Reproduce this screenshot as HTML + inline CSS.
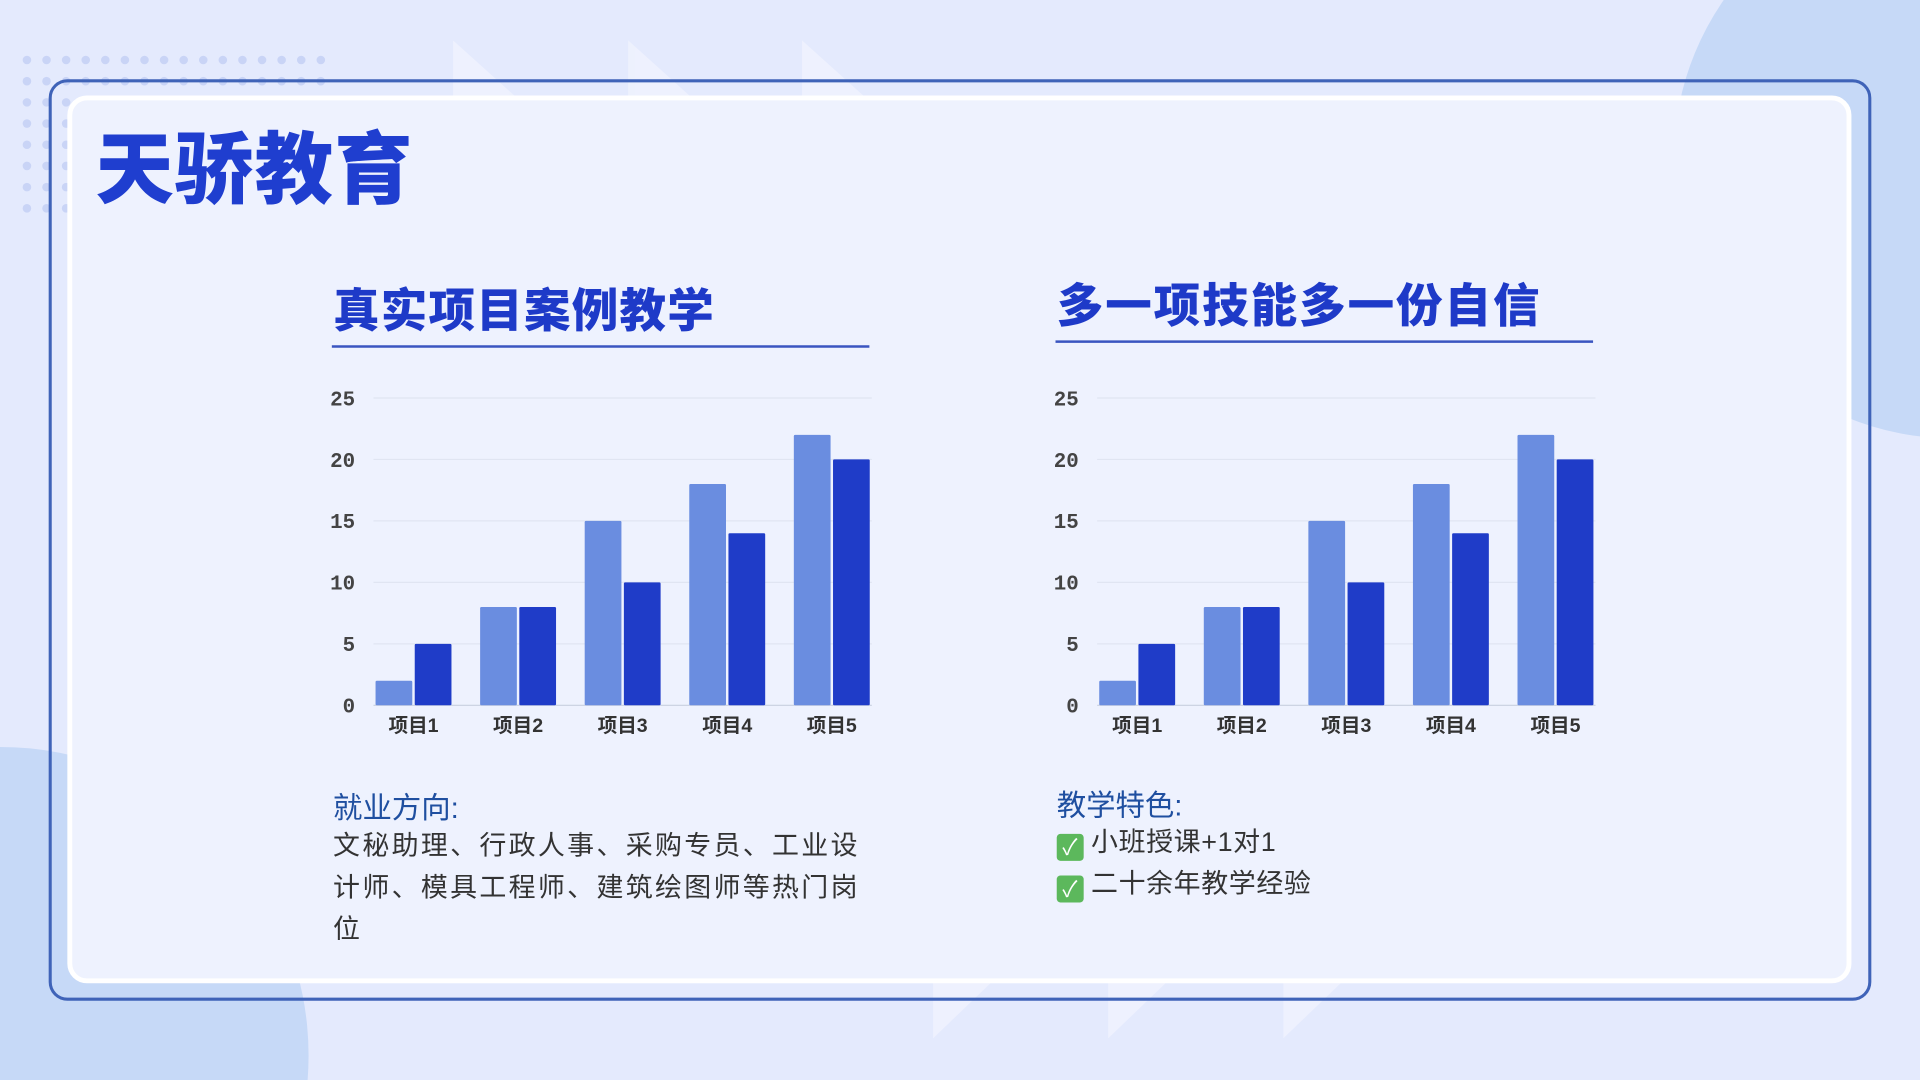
<!DOCTYPE html>
<html><head><meta charset="utf-8"><style>
html,body{margin:0;padding:0;width:1920px;height:1080px;overflow:hidden;background:#e4eafd}
#w{position:relative;width:1920px;height:1080px;overflow:hidden}
#s{position:absolute;left:0;top:0;width:1568px;height:882px;transform:scale(1.22449);transform-origin:0 0;font-family:"Liberation Sans","Noto Sans CJK SC",sans-serif}
.a{position:absolute}
</style></head><body>
<div id="w">
<div id="s">
<svg class="a" style="left:0;top:0" width="1568" height="882">
<rect width="1568" height="882" fill="#e4eafd"/>
<circle cx="1595" cy="130" r="228" fill="#c6d9f7"/>
<circle cx="0" cy="862" r="252" fill="#c6d9f7"/>
<g fill="#f0f3fe" opacity="0.8">
<polygon points="370,33 370,78 420,78"/><polygon points="513,33 513,78 563,78"/><polygon points="655,33 655,78 705,78"/>
<polygon points="762,800 762,848 812,800"/><polygon points="905,800 905,848 955,800"/><polygon points="1048,800 1048,848 1098,800"/>
</g>
<g id="dots" fill="#c9d4f6"></g>
<rect x="41" y="66" width="1486" height="750" rx="14" fill="none" stroke="#3f63b8" stroke-width="2.5"/>
<rect x="57" y="80" width="1453" height="721" rx="14" fill="#eef2fe" stroke="#ffffff" stroke-width="4"/>
</svg>
<div class="a" style="left:78px;top:88px;font-size:64px;font-weight:900;color:#1f3ecf;letter-spacing:1px">天骄教育</div>
<svg class="a" style="left:0;top:0" width="1568" height="882" id="charts"></svg>
<div class="a" style="left:272px;top:640px;font-size:24px;color:#1f4fa0">就业方向:</div>
<div class="a" style="left:272px;top:674px;width:470px;font-size:22px;letter-spacing:1.9px;line-height:34px;color:#333;white-space:nowrap">文秘助理、行政人事、采购专员、工业设<br>计师、模具工程师、建筑绘图师等热门岗<br>位</div>
<div class="a" style="left:863px;top:638px;font-size:24px;color:#1f4fa0">教学特色:</div>
<div class="a" style="left:863px;top:671px;font-size:22px;letter-spacing:0.5px;line-height:34px;color:#333">
<div><span style="display:inline-block;width:22px;height:22px;background:#5cb85c;border-radius:3px;color:#fff;font-size:18px;line-height:22px;text-align:center;vertical-align:-3px;margin-right:6px">✓</span>小班授课+1对1</div>
<div><span style="display:inline-block;width:22px;height:22px;background:#5cb85c;border-radius:3px;color:#fff;font-size:18px;line-height:22px;text-align:center;vertical-align:-3px;margin-right:6px">✓</span>二十余年教学经验</div>
</div>
</div>
</div>
<script>
const categories=["项目1","项目2","项目3","项目4","项目5"];
const seriesA=[2,8,15,18,22];
const seriesB=[5,8,10,14,20];
const yTicks=[0,5,10,15,20,25];
const titles=["真实项目案例教学","多一项技能多一份自信"];
const NS="http://www.w3.org/2000/svg";
function mk(t,a,p){const e=document.createElementNS(NS,t);for(const k in a)e.setAttribute(k,a[k]);p.appendChild(e);return e;}
const dots=document.getElementById('dots');
for(let r=0;r<8;r++)for(let c=0;c<16;c++){const d=mk('circle',{cx:22+c*16,cy:49+r*17.3,r:3.5},dots);

}
const svg=document.getElementById('charts');
[[0,0,1],[591,-4,1.6]].forEach(([dx,dy,ls],i)=>{
 const g=mk('g',{},svg);
 
 
 const t=mk('text',{x:272+dx,y:267+dy,'font-size':38,'font-weight':900,fill:'#1e3ac8','letter-spacing':ls},g);t.textContent=titles[i];
 
 
 const u=mk('line',{x1:272+dx-1,x2:710+dx,y1:283+dy,y2:283+dy,stroke:'#3a55c0','stroke-width':2},g);
 
 
 const y0=576,x0=295+dx,x1=722+dx;
 const ys=v=>y0-v*(251/25);
 const step=(x1-x0)/categories.length;
 const xc=j=>x0+step*(j+0.5);
 yTicks.forEach(v=>{
  const l=mk('line',{x1:305+dx,x2:712+dx,y1:ys(v),y2:ys(v),stroke:v?'#e0e5f2':'#c8cfdf','stroke-width':1},g);
  
  
  const tx=mk('text',{x:290+dx,y:ys(v)+6,'font-size':17,'text-anchor':'end',fill:'#444','font-family':'Liberation Mono, monospace','font-weight':700},g);tx.textContent=v;
  
  
 });
 categories.forEach((c,j)=>{
  const b1=mk('rect',{x:xc(j)-31,y:ys(seriesA[j]),width:30,height:y0-ys(seriesA[j]),fill:'#6a8de0',rx:1},g);
  
  
  const b2=mk('rect',{x:xc(j)+1,y:ys(seriesB[j]),width:30,height:y0-ys(seriesB[j]),fill:'#1f3cc8',rx:1},g);
  
  
  const tx=mk('text',{x:xc(j),y:598,'font-size':16,'text-anchor':'middle',fill:'#333','font-weight':700},g);tx.textContent=c;
  
  
 });
});
</script>
</body></html>
